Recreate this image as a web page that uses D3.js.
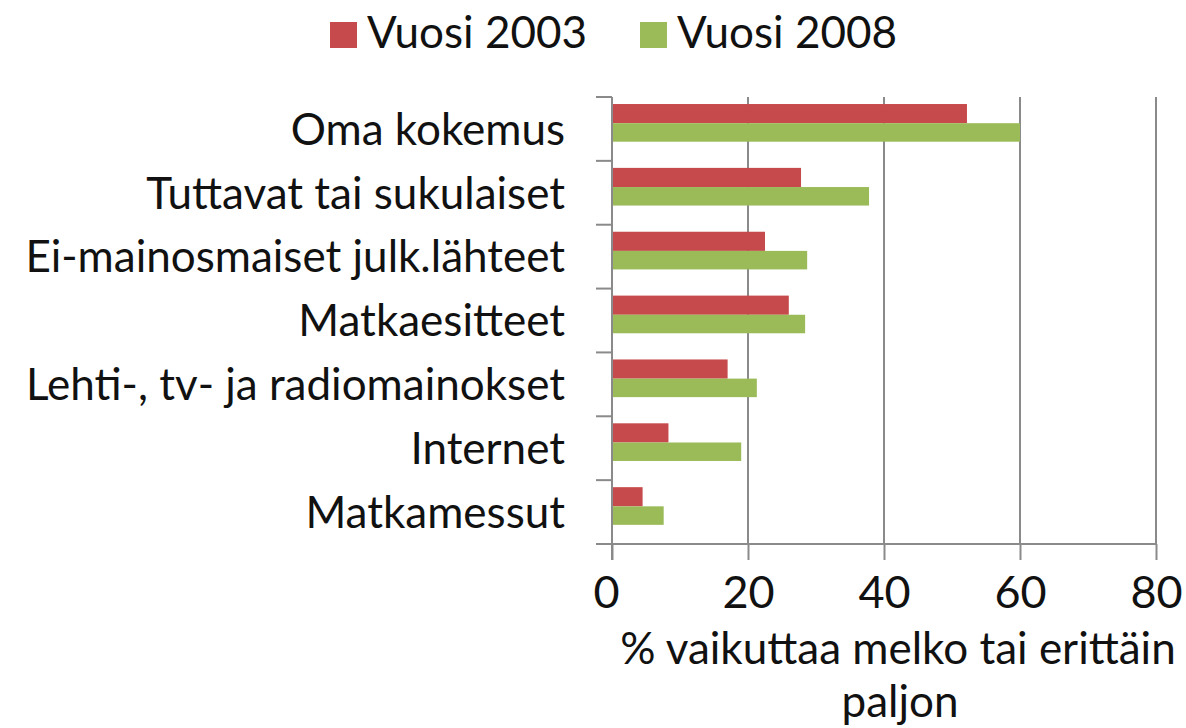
<!DOCTYPE html>
<html>
<head>
<meta charset="utf-8">
<script src="https://cdn.jsdelivr.net/npm/d3@7"></script>
<style>
  body { margin: 0; background: #fff; }
  text { font-family: Lato, "Open Sans", sans-serif; fill: #111; }
</style>
</head>
<body>
<div id="chart"></div>
<script>
// Tiedot luettu kuvasta (arvioita)
const kategoriat = ["Oma kokemus", "Tuttavat tai sukulaiset", "Ei-mainosmaiset julk.lähteet",
  "Matkaesitteet", "Lehti-, tv- ja radiomainokset", "Internet", "Matkamessut"];
const vuosi2003 = [52.2, 27.8, 22.5, 26.0, 17.0, 8.3, 4.5];
const vuosi2008 = [60.0, 37.8, 28.7, 28.4, 21.3, 19.0, 7.6];
const sarjat = ["Vuosi 2003", "Vuosi 2008"];
const xTicks = [0, 20, 40, 60, 80];

const width = 1186, height = 728;
const fs = 44;
const harmaa = "#8a8a8a";
const varit = ["#c64a4b", "#9bbb59"];

const svg = d3.select("#chart").append("svg")
    .attr("width", width)
    .attr("height", height);

const x = d3.scaleLinear().domain([0, 80]).range([612, 1156]);
const y = d3.scaleBand().domain(kategoriat).range([97, 544]);
const bw = y.bandwidth();

// pystysuorat ruudukkoviivat
svg.append("g")
    .selectAll("line")
    .data(xTicks.slice(1))
    .enter().append("line")
    .attr("x1", d => x(d)).attr("x2", d => x(d))
    .attr("y1", 97).attr("y2", 544)
    .attr("stroke", harmaa).attr("stroke-width", 2);

// palkit
const rivit = kategoriat.map((k, i) => ({k, a: vuosi2003[i], b: vuosi2008[i]}));
const g = svg.append("g");
g.selectAll("rect.a").data(rivit).enter().append("rect")
    .attr("x", x(0))
    .attr("y", d => y(d.k) + bw * 0.11)
    .attr("width", d => x(d.a) - x(0))
    .attr("height", bw * 0.3)
    .attr("fill", varit[0]);
g.selectAll("rect.b").data(rivit).enter().append("rect")
    .attr("x", x(0))
    .attr("y", d => y(d.k) + bw * 0.41)
    .attr("height", bw * 0.29)
    .attr("width", d => x(d.b) - x(0))
    .attr("fill", varit[1]);

// x-akseli
const xAxis = svg.append("g")
    .attr("transform", "translate(0,544)")
    .call(d3.axisBottom(x).tickValues(xTicks).tickSize(16).tickSizeOuter(0));
xAxis.select(".domain").remove();
xAxis.selectAll(".tick line").attr("stroke", harmaa).attr("stroke-width", 2);
xAxis.selectAll(".tick text")
    .attr("y", 64).attr("dy", 0)
    .attr("x", d => d === 0 ? -6 : 0)
    .style("font-size", (fs + 1) + "px")
    .style("font-family", "Lato, sans-serif")
    .attr("fill", "#111");
svg.append("line")
    .attr("x1", 596).attr("x2", x(80))
    .attr("y1", 544).attr("y2", 544)
    .attr("stroke", harmaa).attr("stroke-width", 2);

// y-akseli
svg.append("line")
    .attr("x1", x(0)).attr("x2", x(0))
    .attr("y1", 97).attr("y2", 560)
    .attr("stroke", harmaa).attr("stroke-width", 2);
const rajat = kategoriat.map(k => y(k)).concat([y.range()[1]]);
svg.append("g").selectAll("line").data(rajat).enter().append("line")
    .attr("x1", 596).attr("x2", x(0))
    .attr("y1", d => d).attr("y2", d => d)
    .attr("stroke", harmaa).attr("stroke-width", 2);

svg.append("g").selectAll("text").data(kategoriat).enter().append("text")
    .attr("x", 565)
    .attr("y", d => y(d) + bw / 2)
    .attr("dy", "0.36em")
    .attr("text-anchor", "end")
    .style("font-size", fs + "px")
    .text(d => d);

// akselin otsikko (kaksi riviä)
svg.append("text")
    .attr("x", 898).attr("y", 664)
    .attr("text-anchor", "middle")
    .style("font-size", fs + "px")
    .text("% vaikuttaa melko tai erittäin");
svg.append("text")
    .attr("x", 900).attr("y", 717)
    .attr("text-anchor", "middle")
    .style("font-size", fs + "px")
    .text("paljon");

// selite
const selite = [{s: sarjat[0], x: 330}, {s: sarjat[1], x: 640}];
const lg = svg.append("g").selectAll("g").data(selite).enter().append("g")
    .attr("transform", d => `translate(${d.x},0)`);
lg.append("rect")
    .attr("x", 0).attr("y", 22).attr("width", 27).attr("height", 26)
    .attr("fill", (d, i) => varit[i]);
lg.append("text")
    .attr("x", 37).attr("y", 48)
    .style("font-size", fs + "px")
    .text(d => d.s);
</script>
</body>
</html>
